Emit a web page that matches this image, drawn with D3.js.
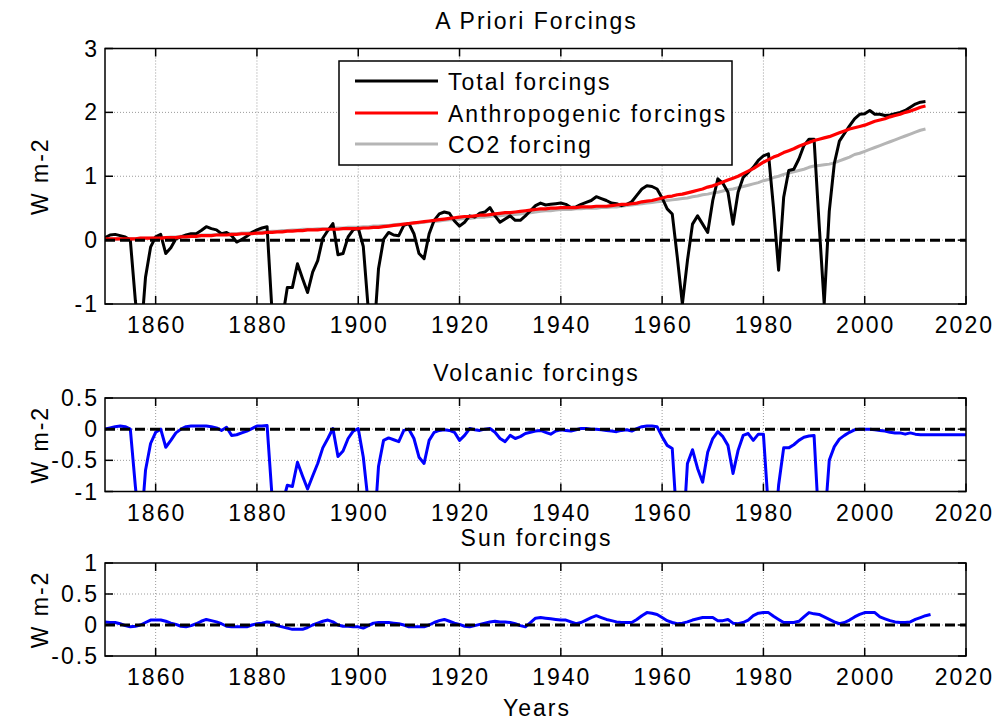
<!DOCTYPE html>
<html>
<head>
<meta charset="utf-8">
<script src="https://cdn.jsdelivr.net/npm/d3@7"></script>
<style>
  html, body { margin: 0; padding: 0; background: #fff; }
  svg { display: block; font-family: "Liberation Sans", Arial, Helvetica, sans-serif; }
  .lbl { font-size: 23px; letter-spacing: 2px; fill: #000; }
</style>
</head>
<body>
<svg id="chart" width="995" height="721"></svg>
<script>
// ---- data (W m-2, one value per year) ----
const forcingStartYear = 1850;   // total, anthropogenic, CO2: 1850-2012
const totalForcing = [
  0.04, 0.08, 0.09, 0.07, 0.05, 0.00, -0.95, -1.60, -0.58, -0.11,
  0.05, 0.09, -0.21, -0.12, 0.02, 0.05, 0.08, 0.10, 0.10, 0.15,
  0.21, 0.18, 0.16, 0.10, 0.12, 0.07, -0.03, 0.01, 0.06, 0.12,
  0.16, 0.19, 0.21, -1.15, -1.90, -1.25, -0.74, -0.74, -0.37, -0.60,
  -0.82, -0.50, -0.32, 0.03, 0.15, 0.26, -0.23, -0.21, 0.05, 0.16,
  0.19, -0.10, -1.10, -1.60, -0.45, 0.01, 0.12, 0.08, 0.07, 0.23,
  0.26, 0.10, -0.21, -0.29, 0.10, 0.31, 0.41, 0.44, 0.42, 0.30,
  0.22, 0.28, 0.38, 0.36, 0.42, 0.44, 0.51, 0.38, 0.28, 0.33,
  0.38, 0.31, 0.31, 0.38, 0.46, 0.54, 0.58, 0.55, 0.56, 0.57,
  0.58, 0.56, 0.51, 0.52, 0.56, 0.59, 0.62, 0.68, 0.65, 0.62,
  0.58, 0.57, 0.54, 0.56, 0.60, 0.70, 0.80, 0.85, 0.84, 0.80,
  0.66, 0.49, 0.41, -0.27, -1.00, -0.32, 0.25, 0.38, 0.25, 0.12,
  0.62, 0.96, 0.89, 0.75, 0.25, 0.75, 0.98, 1.06, 1.14, 1.25,
  1.32, 1.35, 0.50, -0.47, 0.67, 1.09, 1.11, 1.27, 1.48, 1.58,
  1.58, 0.25, -1.00, 0.45, 1.20, 1.55, 1.67, 1.79, 1.90, 1.97,
  1.98, 2.03, 1.97, 1.97, 1.95, 1.96, 1.98, 2.00, 2.03, 2.08,
  2.13, 2.16, 2.17
];
const anthroForcing = [
  0.02, 0.02, 0.02, 0.02, 0.02, 0.02, 0.02, 0.03, 0.03, 0.03,
  0.03, 0.03, 0.04, 0.04, 0.04, 0.05, 0.05, 0.06, 0.06, 0.07,
  0.07, 0.07, 0.08, 0.08, 0.08, 0.09, 0.09, 0.10, 0.10, 0.10,
  0.11, 0.11, 0.12, 0.12, 0.13, 0.13, 0.14, 0.14, 0.15, 0.15,
  0.16, 0.16, 0.16, 0.17, 0.17, 0.17, 0.17, 0.18, 0.18, 0.18,
  0.18, 0.19, 0.19, 0.20, 0.20, 0.21, 0.22, 0.23, 0.24, 0.25,
  0.26, 0.27, 0.28, 0.29, 0.30, 0.31, 0.32, 0.33, 0.34, 0.35,
  0.36, 0.37, 0.37, 0.38, 0.39, 0.39, 0.40, 0.41, 0.42, 0.43,
  0.43, 0.44, 0.45, 0.46, 0.47, 0.48, 0.49, 0.49, 0.50, 0.50,
  0.51, 0.51, 0.51, 0.51, 0.52, 0.52, 0.52, 0.53, 0.53, 0.53,
  0.54, 0.55, 0.56, 0.56, 0.57, 0.58, 0.60, 0.61, 0.62, 0.64,
  0.66, 0.68, 0.69, 0.71, 0.72, 0.74, 0.76, 0.78, 0.80, 0.83,
  0.85, 0.88, 0.91, 0.94, 0.97, 1.00, 1.04, 1.08, 1.12, 1.17,
  1.22, 1.26, 1.30, 1.33, 1.37, 1.40, 1.43, 1.47, 1.50, 1.53,
  1.56, 1.58, 1.60, 1.62, 1.65, 1.68, 1.71, 1.74, 1.76, 1.78,
  1.80, 1.83, 1.86, 1.88, 1.90, 1.93, 1.95, 1.97, 2.00, 2.02,
  2.05, 2.08, 2.10
];
const co2Forcing = [
  0.01, 0.01, 0.01, 0.02, 0.02, 0.02, 0.02, 0.03, 0.03, 0.03,
  0.04, 0.04, 0.04, 0.05, 0.05, 0.06, 0.06, 0.07, 0.07, 0.08,
  0.08, 0.08, 0.09, 0.09, 0.10, 0.10, 0.10, 0.11, 0.11, 0.12,
  0.12, 0.13, 0.13, 0.14, 0.14, 0.15, 0.15, 0.16, 0.16, 0.17,
  0.17, 0.17, 0.18, 0.18, 0.18, 0.19, 0.19, 0.19, 0.20, 0.20,
  0.20, 0.21, 0.21, 0.22, 0.22, 0.23, 0.23, 0.24, 0.25, 0.25,
  0.26, 0.27, 0.27, 0.28, 0.29, 0.29, 0.30, 0.31, 0.32, 0.32,
  0.33, 0.34, 0.34, 0.35, 0.36, 0.36, 0.37, 0.38, 0.38, 0.39,
  0.40, 0.40, 0.41, 0.42, 0.43, 0.44, 0.45, 0.46, 0.46, 0.47,
  0.48, 0.48, 0.48, 0.49, 0.49, 0.50, 0.50, 0.50, 0.51, 0.51,
  0.52, 0.52, 0.53, 0.54, 0.55, 0.56, 0.57, 0.58, 0.59, 0.60,
  0.61, 0.62, 0.63, 0.64, 0.65, 0.66, 0.68, 0.69, 0.71, 0.72,
  0.74, 0.75, 0.77, 0.79, 0.80, 0.82, 0.84, 0.86, 0.88, 0.90,
  0.93, 0.95, 0.98, 1.00, 1.03, 1.05, 1.07, 1.09, 1.11, 1.14,
  1.16, 1.17, 1.18, 1.19, 1.21, 1.24, 1.27, 1.30, 1.34, 1.36,
  1.39, 1.42, 1.45, 1.48, 1.51, 1.54, 1.57, 1.60, 1.63, 1.66,
  1.69, 1.72, 1.74
];
const volcanicStartYear = 1850;  // 1850-2020
const volcanicForcing = [
  0.00, 0.02, 0.04, 0.05, 0.04, 0.00, -0.92, -1.70, -0.66, -0.23,
  -0.05, 0.00, -0.29, -0.18, -0.06, 0.00, 0.04, 0.05, 0.05, 0.05,
  0.05, 0.04, 0.02, -0.02, 0.03, -0.10, -0.09, -0.06, -0.03, 0.01,
  0.05, 0.05, 0.06, -1.10, -2.00, -1.20, -0.90, -0.92, -0.53, -0.75,
  -0.96, -0.75, -0.55, -0.30, -0.15, 0.01, -0.44, -0.35, -0.15, -0.03,
  0.01, -0.45, -1.20, -1.80, -0.60, -0.18, -0.14, -0.17, -0.20, -0.02,
  0.00, -0.15, -0.45, -0.55, -0.18, -0.05, -0.02, -0.01, -0.02, -0.05,
  -0.18, -0.10, 0.01, -0.01, -0.02, 0.00, 0.01, -0.05, -0.15, -0.20,
  -0.10, -0.15, -0.12, -0.07, -0.05, -0.03, -0.02, -0.05, -0.08, -0.03,
  -0.01, -0.02, -0.03, -0.01, 0.01, 0.01, 0.00, 0.00, -0.01, -0.02,
  -0.03, -0.04, -0.02, -0.01, -0.03, 0.01, 0.04, 0.05, 0.05, 0.04,
  -0.12, -0.26, -0.31, -1.60, -1.90, -0.55, -0.33, -0.63, -0.85, -0.37,
  -0.15, -0.04, -0.12, -0.26, -0.71, -0.34, -0.10, -0.07, -0.18, -0.08,
  -0.08, -1.30, -1.90, -0.90, -0.30, -0.30, -0.25, -0.18, -0.13, -0.11,
  -0.10, -1.60, -1.60, -0.50, -0.28, -0.16, -0.10, -0.05, -0.01, 0.00,
  0.00, 0.00, -0.01, -0.02, -0.03, -0.05, -0.06, -0.06, -0.08, -0.06,
  -0.08, -0.09, -0.09, -0.09, -0.09, -0.09, -0.09, -0.09, -0.09, -0.09,
  -0.09
];
const sunStartYear = 1850;       // 1850-2013
const sunForcing = [
  0.05, 0.04, 0.04, 0.02, -0.01, -0.03, -0.02, 0.00, 0.04, 0.08,
  0.08, 0.08, 0.06, 0.03, 0.01, -0.02, -0.03, -0.01, 0.02, 0.06,
  0.09, 0.07, 0.05, 0.02, -0.02, -0.03, -0.03, -0.03, -0.03, 0.00,
  0.02, 0.03, 0.05, 0.04, -0.01, -0.03, -0.05, -0.07, -0.07, -0.07,
  -0.04, 0.00, 0.03, 0.06, 0.08, 0.05, 0.00, -0.02, -0.02, -0.03,
  -0.03, -0.05, -0.01, 0.03, 0.04, 0.04, 0.04, 0.03, 0.02, 0.00,
  -0.03, -0.03, -0.03, -0.03, 0.00, 0.04, 0.07, 0.09, 0.06, 0.03,
  0.01, -0.02, -0.03, -0.01, 0.01, 0.03, 0.05, 0.06, 0.05, 0.05,
  0.04, 0.02, -0.01, -0.03, 0.04, 0.11, 0.12, 0.11, 0.10, 0.09,
  0.08, 0.08, 0.05, 0.02, 0.04, 0.08, 0.12, 0.15, 0.12, 0.09,
  0.07, 0.05, 0.04, 0.04, 0.04, 0.09, 0.15, 0.20, 0.19, 0.17,
  0.12, 0.07, 0.04, 0.02, 0.03, 0.05, 0.08, 0.10, 0.12, 0.12,
  0.12, 0.07, 0.07, 0.09, 0.03, 0.02, 0.04, 0.08, 0.15, 0.19,
  0.20, 0.20, 0.14, 0.09, 0.04, 0.04, 0.04, 0.06, 0.13, 0.20,
  0.18, 0.17, 0.13, 0.09, 0.05, 0.02, 0.04, 0.08, 0.13, 0.17,
  0.20, 0.20, 0.20, 0.13, 0.10, 0.07, 0.05, 0.04, 0.04, 0.05,
  0.09, 0.12, 0.15, 0.17
];

const yearDomain = [1850, 2020];
const yearTicks = [1860, 1880, 1900, 1920, 1940, 1960, 1980, 2000, 2020];

const topTicks = [3, 2, 1, 0, -1];
const topTickLabels = ["3", "2", "1", "0", "-1"];
const volcanicTicks = [0.5, 0, -0.5, -1];
const volcanicTickLabels = ["0.5", "0", "-0.5", "-1"];
const sunTicks = [1, 0.5, 0, -0.5];
const sunTickLabels = ["1", "0.5", "0", "-0.5"];

const legendLabels = ["Total forcings", "Anthropogenic forcings", "CO2 forcing"];

// ---- layout ----
const svg = d3.select("#chart");
const left = 105, right = 966;
const x = d3.scaleLinear().domain(yearDomain).range([left, right]);

const toPoints = (start, values) => values.map((v, i) => ({ year: start + i, value: v }));

const panels = [
  { id: "top", title: "A Priori Forcings", titleY: 29, top: 48.5, bottom: 304,
    domain: [-1, 3], ticks: topTicks, labels: topTickLabels },
  { id: "volc", title: "Volcanic forcings", titleY: 381, top: 398, bottom: 491.5,
    domain: [-1, 0.5], ticks: volcanicTicks, labels: volcanicTickLabels },
  { id: "sun", title: "Sun forcings", titleY: 546, top: 563, bottom: 656,
    domain: [-0.5, 1], ticks: sunTicks, labels: sunTickLabels }
];

const defs = svg.append("defs");

panels.forEach(p => {
  p.y = d3.scaleLinear().domain(p.domain).range([p.bottom, p.top]);
  defs.append("clipPath").attr("id", "clip-" + p.id)
    .append("rect").attr("x", left).attr("y", p.top)
    .attr("width", right - left).attr("height", p.bottom - p.top);

  const g = svg.append("g");

  // dotted grid
  const grid = g.append("g").attr("stroke", "#9a9a9a").attr("stroke-width", 1)
    .attr("stroke-dasharray", "1,2");
  yearTicks.filter(t => t < yearDomain[1]).forEach(t => {
    grid.append("line").attr("x1", x(t)).attr("x2", x(t))
      .attr("y1", p.top).attr("y2", p.bottom);
  });
  p.ticks.filter(t => t > p.domain[0] && t < p.domain[1]).forEach(t => {
    grid.append("line").attr("x1", left).attr("x2", right)
      .attr("y1", p.y(t)).attr("y2", p.y(t));
  });

  p.g = g;
  p.plot = g.append("g").attr("clip-path", `url(#clip-${p.id})`);
});

const line = (p) => d3.line().x(d => x(d.year)).y(d => p.y(d.value));

// top panel series
const P0 = panels[0];
const co2Pts = toPoints(forcingStartYear, co2Forcing);
const totalPts = toPoints(forcingStartYear, totalForcing);
const anthroPts = toPoints(forcingStartYear, anthroForcing);
P0.plot.append("path").datum(co2Pts).attr("fill", "none").attr("stroke", "#b5b5b5")
  .attr("stroke-width", 3).attr("stroke-linejoin", "round").attr("d", line(P0));
P0.plot.append("path").datum(totalPts).attr("fill", "none").attr("stroke", "#000")
  .attr("stroke-width", 3).attr("stroke-linejoin", "round").attr("d", line(P0));
P0.plot.append("path").datum(anthroPts).attr("fill", "none").attr("stroke", "#ff0000")
  .attr("stroke-width", 3.2).attr("stroke-linejoin", "round").attr("d", line(P0));

// volcanic and sun panels
const P1 = panels[1], P2 = panels[2];
P1.plot.append("path").datum(toPoints(volcanicStartYear, volcanicForcing))
  .attr("fill", "none").attr("stroke", "#0000ff").attr("stroke-width", 3)
  .attr("stroke-linejoin", "round").attr("d", line(P1));
P2.plot.append("path").datum(toPoints(sunStartYear, sunForcing))
  .attr("fill", "none").attr("stroke", "#0000ff").attr("stroke-width", 3)
  .attr("stroke-linejoin", "round").attr("d", line(P2));

// zero reference, axes box, ticks, labels
panels.forEach(p => {
  p.plot.append("line").attr("x1", left).attr("x2", right)
    .attr("y1", p.y(0)).attr("y2", p.y(0))
    .attr("stroke", "#000").attr("stroke-width", 3).attr("stroke-dasharray", "10,5");

  const ax = p.g.append("g").attr("stroke", "#000").attr("stroke-width", 1.5);
  ax.append("rect").attr("x", left).attr("y", p.top)
    .attr("width", right - left).attr("height", p.bottom - p.top).attr("fill", "none");
  const tl = 8;
  yearTicks.forEach(t => {
    ax.append("line").attr("x1", x(t)).attr("x2", x(t)).attr("y1", p.bottom).attr("y2", p.bottom - tl);
    ax.append("line").attr("x1", x(t)).attr("x2", x(t)).attr("y1", p.top).attr("y2", p.top + tl);
  });
  p.ticks.forEach(t => {
    ax.append("line").attr("x1", left).attr("x2", left + tl).attr("y1", p.y(t)).attr("y2", p.y(t));
    ax.append("line").attr("x1", right).attr("x2", right - tl).attr("y1", p.y(t)).attr("y2", p.y(t));
  });

  // y tick labels
  p.ticks.forEach((t, i) => {
    p.g.append("text").attr("class", "lbl").attr("x", 99).attr("y", p.y(t) + 8)
      .attr("text-anchor", "end").text(p.labels[i]);
  });
  // x tick labels; the last one sits against the right edge of the page
  yearTicks.forEach(t => {
    const last = t === yearDomain[1];
    p.g.append("text").attr("class", "lbl")
      .attr("x", last ? 994 : x(t) + 1).attr("y", p.bottom + 29)
      .attr("text-anchor", last ? "end" : "middle").text(String(t));
  });
  // title
  p.g.append("text").attr("class", "lbl").attr("x", (left + right) / 2 + 1).attr("y", p.titleY)
    .attr("text-anchor", "middle").text(p.title);
  // y label
  const cy = (p.top + p.bottom) / 2;
  p.g.append("text").attr("class", "lbl")
    .attr("transform", `translate(48,${cy}) rotate(-90)`)
    .attr("text-anchor", "middle").text("W m-2");
});

svg.append("text").attr("class", "lbl").attr("x", 537).attr("y", 716)
  .attr("text-anchor", "middle").text("Years");

// legend
const lg = svg.append("g");
lg.append("rect").attr("x", 339).attr("y", 61).attr("width", 393).attr("height", 104)
  .attr("fill", "#fff").attr("stroke", "#000").attr("stroke-width", 1.5);
const legendColors = ["#000", "#ff0000", "#b5b5b5"];
const legendRows = [81, 113, 144];
legendLabels.forEach((lab, i) => {
  lg.append("line").attr("x1", 355).attr("x2", 438)
    .attr("y1", legendRows[i]).attr("y2", legendRows[i])
    .attr("stroke", legendColors[i]).attr("stroke-width", 3);
  lg.append("text").attr("class", "lbl").attr("x", 448).attr("y", legendRows[i] + 8.5).text(lab);
});
</script>
</body>
</html>
